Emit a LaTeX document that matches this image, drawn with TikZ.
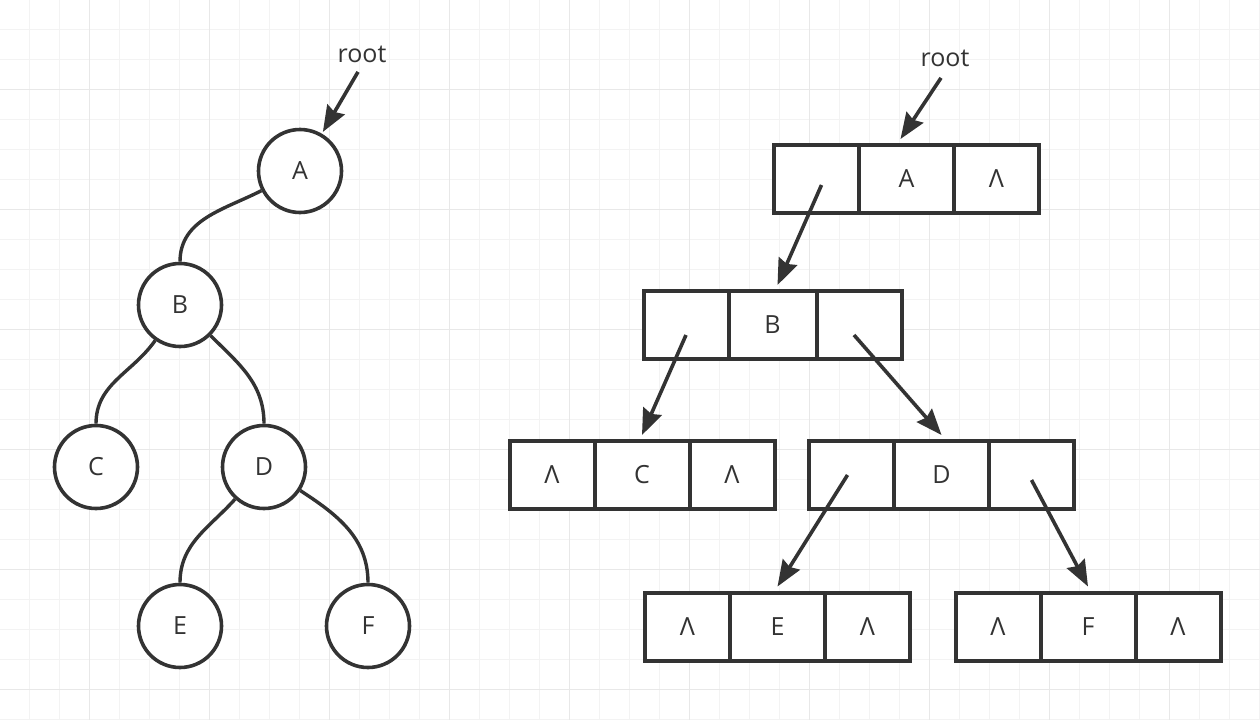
\documentclass[tikz,border=0pt]{standalone}
\usepackage{fontspec}
\setmainfont{Open Sans}
\usetikzlibrary{matrix,arrows.meta}
\definecolor{ink}{HTML}{333333}
\definecolor{gridminor}{HTML}{F3F3F3}
\definecolor{gridmajor}{HTML}{E8E8E8}

\begin{document}
\begin{tikzpicture}[x=1pt, y=1pt, font=\fontsize{25}{30}\selectfont, text=ink,
	tnode/.style={circle, draw=ink, fill=white, line width=3.6pt, minimum size=83pt, inner sep=0pt},
	link/.style={color=ink, line width=3.4pt},
	ptr/.style={color=ink, line width=3.6pt, -{Stealth[length=26pt, width=20pt, inset=3pt]}},
	record/.style={matrix of nodes, nodes in empty cells, column sep=-4pt, inner sep=0pt,
		nodes={draw=ink, fill=white, line width=4pt, minimum height=68pt,
			minimum width=85pt, inner sep=0pt, anchor=center},
		column 2/.style={nodes={minimum width=95pt}}}]
			% background grid
			\fill[white] (0,0) rectangle (1260,-720);
			\useasboundingbox (0,0) rectangle (1260,-720);
			\foreach \gx in {29.5,59.5,...,1259.5}
				\draw[gridminor, line width=1.2pt] (\gx,0) -- (\gx,-720);
			\foreach \gy in {-29.5,-59.5,...,-719.5}
				\draw[gridminor, line width=1.2pt] (0,\gy) -- (1260,\gy);
			\foreach \gx in {89.5,209.5,...,1169.5}
				\draw[gridmajor, line width=1.2pt] (\gx,0) -- (\gx,-720);
			\foreach \gy in {-89.5,-209.5,...,-689.5}
				\draw[gridmajor, line width=1.2pt] (0,\gy) -- (1260,\gy);

			% binary tree
			\node[tnode] (A) at (300,-171) {A};
			\node[tnode] (B) at (180,-305) {B};
			\node[tnode] (C) at (96,-467) {C};
			\node[tnode] (D) at (264,-467) {D};
			\node[tnode] (E) at (180,-626) {E};
			\node[tnode] (F) at (368,-626) {F};
			\path[link]
			(A) edge[out=207, in=90] (B)
			(B) edge[out=235, in=90] (C)
			edge[out=-45, in=90] (D)
			(D) edge[out=228, in=90] (E)
			edge[out=-33, in=90] (F);

			% linked storage
			\matrix (ra) [record] at (906.5,-179) { & A & Λ \\ };
			\matrix (rb) [record] at (772.5,-325) { & |[minimum width=88pt]| B & \\ };
			\matrix (rc) [record] at (642,-475) { Λ & C & Λ \\ };
			\matrix (rd) [record] at (941.5,-475) { & D & \\ };
			\matrix (re) [record] at (777.5,-626.5) { Λ & E & Λ \\ };
			\matrix (rf) [record] at (1088,-626.5) { Λ & F & Λ \\ };

			\node (rootl) at (362,-54) {root};
			\node (rootr) at (945,-58) {root};
			\path[ptr]
			([xshift=-4pt,yshift=-6pt]rootl.south) edge[shorten >=2pt] (A)
			([xshift=-4pt,yshift=-8pt]rootr.south) edge ([xshift=-6pt,yshift=4pt]ra-1-2.north)
			([xshift=5pt,yshift=-6pt]ra-1-1.center) edge ([xshift=5pt,yshift=4pt]rb-1-2.north)
			([yshift=-10pt]rb-1-1.center) edge ([yshift=4pt]rc-1-2.north)
			([xshift=-5pt,yshift=-10pt]rb-1-3.center) edge ([yshift=4pt]rd-1-2.north)
			([xshift=-4pt]rd-1-1.center) edge ([yshift=4pt]re-1-2.north)
			([yshift=-5pt]rd-1-3.center) edge ([yshift=4pt]rf-1-2.north);
		\end{tikzpicture}
\end{document}
